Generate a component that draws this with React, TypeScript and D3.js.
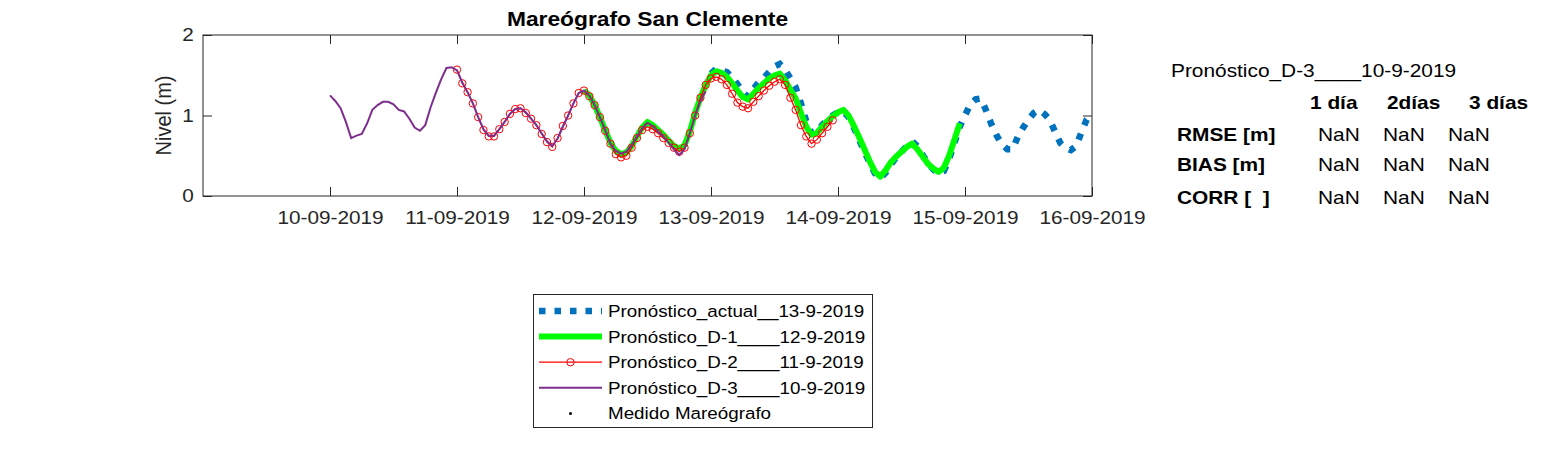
import React, { useEffect, useRef } from "react";
import * as d3 from "d3";

// hourly sea level forecasts (m), each run starts at 00:00 of its day
const startActual = "2019-09-13T00:00:00Z";
const nivelActual = [
  1.52, 1.58, 1.56, 1.54, 1.47, 1.39, 1.29, 1.23, 1.33, 1.41, 1.47, 1.54, 1.61, 1.64, 1.57, 1.46, 1.35, 1.15, 0.93, 0.78, 0.8, 0.88, 0.95, 1.0,
  1.04, 1.05, 0.98, 0.85, 0.7, 0.55, 0.41, 0.28, 0.22, 0.29, 0.39, 0.48, 0.55, 0.62, 0.68, 0.62, 0.51, 0.41, 0.33, 0.28, 0.31, 0.46, 0.66, 0.86,
  1.0, 1.14, 1.2, 1.21, 1.06, 0.89, 0.75, 0.64, 0.58, 0.58, 0.74, 0.85, 0.95, 1.03, 1.07, 1.02, 0.95, 0.8, 0.66, 0.59, 0.57, 0.62, 0.79, 0.95,
  1.02,
];

const startD1 = "2019-09-12T00:00:00Z";
const nivelD1 = [
  1.31, 1.25, 1.13, 0.98, 0.82, 0.66, 0.56, 0.52, 0.54, 0.62, 0.74, 0.85, 0.92, 0.88, 0.82, 0.76, 0.69, 0.62, 0.59, 0.63, 0.8, 1.03, 1.22, 1.38,
  1.5, 1.55, 1.53, 1.48, 1.4, 1.31, 1.23, 1.2, 1.27, 1.34, 1.4, 1.46, 1.5, 1.52, 1.44, 1.32, 1.21, 1.03, 0.86, 0.76, 0.78, 0.86, 0.93, 0.99,
  1.04, 1.07, 1.0, 0.87, 0.73, 0.58, 0.43, 0.3, 0.24, 0.32, 0.42, 0.49, 0.55, 0.61, 0.65, 0.58, 0.49, 0.4, 0.34, 0.3, 0.35, 0.5, 0.7, 0.9,
];

const startD2 = "2019-09-11T00:00:00Z";
const nivelD2 = [
  1.57, 1.4, 1.29, 1.15, 0.98, 0.82, 0.74, 0.74, 0.83, 0.92, 1.02, 1.08, 1.09, 1.03, 0.96, 0.88, 0.77, 0.67, 0.61, 0.72, 0.87, 1.0, 1.15, 1.28,
  1.31, 1.24, 1.13, 0.98, 0.81, 0.65, 0.52, 0.48, 0.5, 0.6, 0.72, 0.82, 0.86, 0.83, 0.78, 0.72, 0.66, 0.6, 0.55, 0.6, 0.78, 1.0, 1.22, 1.38,
  1.46, 1.48, 1.45, 1.38, 1.27, 1.16, 1.11, 1.09, 1.17, 1.24, 1.31, 1.37, 1.42, 1.45, 1.38, 1.22, 1.07, 0.88, 0.74, 0.65, 0.7, 0.78, 0.86, 0.94,
];

const startD3 = "2019-09-10T00:00:00Z";
const nivelD3 = [
  1.25, 1.18, 1.09, 0.92, 0.72, 0.75, 0.77, 0.9, 1.07, 1.13, 1.17, 1.17, 1.14, 1.07, 1.05, 0.96, 0.85, 0.81, 0.88, 1.1, 1.28, 1.45, 1.59, 1.6,
  1.56, 1.41, 1.29, 1.15, 0.98, 0.83, 0.75, 0.75, 0.83, 0.92, 1.02, 1.08, 1.09, 1.04, 0.96, 0.88, 0.78, 0.68, 0.62, 0.71, 0.86, 1.0, 1.15, 1.28,
  1.31, 1.25, 1.13, 0.98, 0.82, 0.65, 0.56, 0.53, 0.55, 0.63, 0.74, 0.84, 0.91, 0.87, 0.8, 0.74, 0.66, 0.58, 0.51, 0.58, 0.78, 1.0, 1.18, 1.3,
];

// tide gauge has no data for this period
const medidoTimes: string[] = [];
const medidoValues: number[] = [];

const xDomain = ["2019-09-09T00:00:00Z", "2019-09-16T00:00:00Z"];
const xTicks = ["2019-09-10", "2019-09-11", "2019-09-12", "2019-09-13", "2019-09-14", "2019-09-15", "2019-09-16"];
const yTicks = [0, 1, 2];

const legendLabels = [
  "Pronóstico_actual__13-9-2019",
  "Pronóstico_D-1____12-9-2019",
  "Pronóstico_D-2____11-9-2019",
  "Pronóstico_D-3____10-9-2019",
  "Medido Mareógrafo",
];

const statsTitle = "Pronóstico_D-3____10-9-2019";
const statCols = ["1 día", "2días", "3 días"];
const statRows = ["RMSE [m]", "BIAS [m]", "CORR [  ]"];
const statValues = [
  [NaN, NaN, NaN],
  [NaN, NaN, NaN],
  [NaN, NaN, NaN],
];

const W = 1563;
const H = 469;
const FONT = "'Liberation Sans', Arial, Helvetica, sans-serif";
const SX = 1.14; // the figure is a bit wider than tall
const INK = "#262626";
const BLUE = "#0072BD";
const GREEN = "#00FF00";
const RED = "#FF0000";
const PURPLE = "#7E2F8E";

function hourly(start: string, values: number[]) {
  const t0 = +new Date(start);
  return values.map((v, i) => ({ t: new Date(t0 + i * 3600 * 1000), v }));
}

export default function App() {
  const ref = useRef<SVGSVGElement>(null);

  useEffect(() => {
    const svg = d3.select(ref.current);
    svg.selectAll("*").remove();
    svg.attr("font-family", FONT);

    const x = d3.scaleUtc().domain(xDomain.map((d) => new Date(d))).range([203, 1092]);
    const y = d3.scaleLinear().domain([0, 2]).range([196, 35]);

    const txt = (g: any, px: number, py: number, s: string, size: number, opt: any = {}) =>
      g
        .append("text")
        .attr("transform", `translate(${px},${py}) scale(${SX},1)` + (opt.rotate ? ` rotate(${opt.rotate})` : ""))
        .attr("font-size", size)
        .attr("font-weight", opt.bold ? "bold" : "normal")
        .attr("text-anchor", opt.anchor || "start")
        .attr("fill", opt.fill || INK)
        .style("white-space", "pre")
        .text(s);

    svg.append("defs").append("clipPath").attr("id", "plotclip")
      .append("rect").attr("x", 203).attr("y", 35).attr("width", 889).attr("height", 161);

    svg.append("rect").attr("x", 203).attr("y", 35).attr("width", 889).attr("height", 161).attr("fill", "#fff");

    const line = d3.line<{ t: Date; v: number }>().x((d) => x(d.t)).y((d) => y(d.v));
    const plot = svg.append("g").attr("clip-path", "url(#plotclip)");

    plot.append("path").datum(hourly(startActual, nivelActual)).attr("d", line)
      .attr("fill", "none").attr("stroke", BLUE).attr("stroke-width", 6.5).attr("stroke-dasharray", "6.5 9");
    plot.append("path").datum(hourly(startD1, nivelD1)).attr("d", line)
      .attr("fill", "none").attr("stroke", GREEN).attr("stroke-width", 6).attr("stroke-linejoin", "round");
    const d2 = hourly(startD2, nivelD2);
    plot.append("path").datum(d2).attr("d", line).attr("fill", "none").attr("stroke", RED).attr("stroke-width", 1.3);
    plot.selectAll("circle.d2").data(d2).enter().append("circle").attr("class", "d2")
      .attr("cx", (d) => x(d.t)).attr("cy", (d) => y(d.v)).attr("r", 3.7)
      .attr("fill", "none").attr("stroke", RED).attr("stroke-width", 1);
    plot.append("path").datum(hourly(startD3, nivelD3)).attr("d", line)
      .attr("fill", "none").attr("stroke", PURPLE).attr("stroke-width", 2);
    plot.selectAll("circle.med").data(medidoTimes.map((t, i) => ({ t: new Date(t), v: medidoValues[i] })))
      .enter().append("circle").attr("class", "med")
      .attr("cx", (d) => x(d.t)).attr("cy", (d) => y(d.v)).attr("r", 1.5).attr("fill", "#000");

    // axes (ticks inward, box)
    const tickDates = xTicks.map((d) => new Date(d + "T00:00:00Z"));
    const styleAxis = (g: any) => {
      g.attr("font-family", FONT).attr("color", INK);
      g.select(".domain").remove();
    };
    const gx = svg.append("g").attr("transform", "translate(0,196)")
      .call(d3.axisBottom(x).tickValues(tickDates).tickFormat((d: any) => d3.utcFormat("%d-%m-%Y")(d)).tickSizeInner(-9).tickSizeOuter(0));
    styleAxis(gx);
    gx.attr("font-size", 18.2);
    gx.selectAll(".tick text").attr("y", 28).attr("dy", null).attr("transform", `scale(${SX},1)`);

    const gt = svg.append("g").attr("transform", "translate(0,35)")
      .call(d3.axisTop(x).tickValues(tickDates).tickFormat(() => "").tickSizeInner(-9).tickSizeOuter(0));
    styleAxis(gt);

    const gy = svg.append("g").attr("transform", "translate(203,0)")
      .call(d3.axisLeft(y).tickValues(yTicks).tickFormat(d3.format("d")).tickSizeInner(-9).tickSizeOuter(0).tickPadding(8));
    styleAxis(gy);
    gy.attr("font-size", 18.2);
    gy.selectAll(".tick text").attr("transform", `scale(${SX},1)`);

    const gr = svg.append("g").attr("transform", "translate(1092,0)")
      .call(d3.axisRight(y).tickValues(yTicks).tickFormat(() => "").tickSizeInner(-9).tickSizeOuter(0));
    styleAxis(gr);

    svg.append("rect").attr("x", 203).attr("y", 35).attr("width", 889).attr("height", 161)
      .attr("fill", "none").attr("stroke", INK).attr("stroke-width", 1);

    txt(svg, 647.5, 26, "Mareógrafo San Clemente", 20, { bold: true, anchor: "middle", fill: "#000" });
    txt(svg, 171, 115.5, "Nivel (m)", 20, { anchor: "middle", rotate: -90 });

    // legend
    const lg = svg.append("g");
    lg.append("rect").attr("x", 533.5).attr("y", 294.5).attr("width", 339).attr("height", 133)
      .attr("fill", "#fff").attr("stroke", INK).attr("stroke-width", 1);
    const rowY = (i: number) => 311 + i * 25.6;
    lg.append("line").attr("x1", 539).attr("x2", 602).attr("y1", rowY(0)).attr("y2", rowY(0))
      .attr("stroke", BLUE).attr("stroke-width", 6.5).attr("stroke-dasharray", "6.5 9");
    lg.append("line").attr("x1", 539).attr("x2", 602).attr("y1", rowY(1)).attr("y2", rowY(1))
      .attr("stroke", GREEN).attr("stroke-width", 6);
    lg.append("line").attr("x1", 539).attr("x2", 602).attr("y1", rowY(2)).attr("y2", rowY(2))
      .attr("stroke", RED).attr("stroke-width", 1.3);
    lg.append("circle").attr("cx", 570.5).attr("cy", rowY(2)).attr("r", 3.7)
      .attr("fill", "none").attr("stroke", RED).attr("stroke-width", 1);
    lg.append("line").attr("x1", 539).attr("x2", 602).attr("y1", rowY(3)).attr("y2", rowY(3))
      .attr("stroke", PURPLE).attr("stroke-width", 2);
    lg.append("circle").attr("cx", 570.5).attr("cy", rowY(4)).attr("r", 1.5).attr("fill", "#000");
    legendLabels.forEach((s, i) => txt(lg, 608, rowY(i) + 6, s, 16.5, { fill: "#000" }));

    // statistics table
    const st = svg.append("g");
    txt(st, 1171, 77, statsTitle, 18.3, { fill: "#000" });
    const headX = [1310, 1387, 1469];
    const valX = [1318, 1383, 1448];
    statCols.forEach((s, j) => txt(st, headX[j], 109, s, 18.3, { bold: true, fill: "#000" }));
    const rowBase = [141, 171, 204];
    statRows.forEach((s, i) => {
      txt(st, 1177, rowBase[i], s, 18.3, { bold: true, fill: "#000" });
      statValues[i].forEach((v, j) => txt(st, valX[j], rowBase[i], String(v), 18.3, { fill: "#000" }));
    });
  }, []);

  return (
    <svg
      ref={ref}
      width={W}
      height={H}
      style={{ position: "absolute", left: 0, top: 0, display: "block", background: "#fff" }}
    />
  );
}
